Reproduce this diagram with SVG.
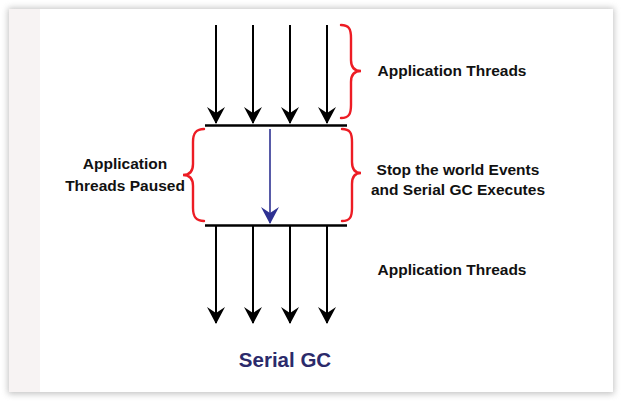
<svg xmlns="http://www.w3.org/2000/svg" width="621" height="401" viewBox="0 0 621 401">
<defs>
<filter id="sh" x="-5%" y="-5%" width="110%" height="110%">
<feGaussianBlur stdDeviation="3"/>
</filter>
<marker id="ah" viewBox="0 0 17 18" refX="16" refY="9" markerWidth="17" markerHeight="18" markerUnits="userSpaceOnUse" orient="auto">
<path d="M17,9 L0,0 L6,9 L0,18 Z" fill="#000"/>
</marker>
<marker id="ahb" viewBox="0 0 17 18" refX="16" refY="9" markerWidth="17" markerHeight="18" markerUnits="userSpaceOnUse" orient="auto">
<path d="M17,9 L0,0 L6,9 L0,18 Z" fill="#2e3192"/>
</marker>
</defs>
<style>
.t{font-family:"Liberation Sans",Arial,sans-serif;font-weight:bold;font-size:15.5px;fill:#111}
.th{stroke:#000;stroke-width:2;fill:none}
.bar{stroke:#000;stroke-width:2.4;fill:none}
.br{stroke:#ed1c24;stroke-width:2.4;fill:none;stroke-linecap:round}
</style>
<rect width="621" height="401" fill="#fff"/>
<rect x="8" y="8" width="606" height="386" fill="#9a9a9a" filter="url(#sh)" opacity="0.6"/>
<rect x="9" y="9" width="604" height="383" fill="#fff"/>
<rect x="9" y="9" width="31" height="383" fill="#f7f3f3"/>

<g id="connectors">
<line class="th" x1="216" y1="25" x2="216" y2="123" marker-end="url(#ah)"/>
<line class="th" x1="253" y1="25" x2="253" y2="123" marker-end="url(#ah)"/>
<line class="th" x1="290" y1="25" x2="290" y2="123" marker-end="url(#ah)"/>
<line class="th" x1="327" y1="25" x2="327" y2="123" marker-end="url(#ah)"/>
<line class="bar" x1="205" y1="125.5" x2="347" y2="125.5"/>
<line stroke="#2e3192" stroke-width="1.6" x1="270" y1="129" x2="270" y2="223" marker-end="url(#ahb)"/>
<line class="bar" x1="205" y1="225.5" x2="347" y2="225.5"/>
<line class="th" x1="216" y1="226" x2="216" y2="323" marker-end="url(#ah)"/>
<line class="th" x1="253" y1="226" x2="253" y2="323" marker-end="url(#ah)"/>
<line class="th" x1="290" y1="226" x2="290" y2="323" marker-end="url(#ah)"/>
<line class="th" x1="327" y1="226" x2="327" y2="323" marker-end="url(#ah)"/>
</g>

<g id="brace-top">
<path class="br" d="M341,25 C349,25 351,29 351,38 L351,60 C351,67 354,71 361,71 C354,71 351,75 351,82 L351,105 C351,114 349,118 341,118"/>
</g>
<g id="brace-mid-right">
<path class="br" d="M342,129 C350,129 352,133 352,142 L352,162 C352,169 355,173 361,173 C355,173 352,177 352,184 L352,208 C352,217 350,221 342,221"/>
</g>
<g id="brace-left">
<path class="br" d="M204,129 C196,129 193,133 193,142 L193,164 C193,171 190,175 183,175 C190,175 193,179 193,186 L193,208 C193,217 196,221 204,221"/>
</g>

<g id="label-top"><text class="t" x="452" y="76" text-anchor="middle">Application Threads</text></g>
<g id="label-stw">
<text class="t" x="458" y="175" text-anchor="middle">Stop the world Events</text>
<text class="t" x="458" y="195" text-anchor="middle">and Serial GC Executes</text>
</g>
<g id="label-paused">
<text class="t" x="125" y="169" text-anchor="middle">Application</text>
<text class="t" x="125" y="191" text-anchor="middle">Threads Paused</text>
</g>
<g id="label-bottom"><text class="t" x="452" y="275" text-anchor="middle">Application Threads</text></g>
<g id="title"><text x="285" y="367" text-anchor="middle" font-family="Liberation Sans, Arial, sans-serif" font-weight="bold" font-size="20.5" fill="#2b2a6b">Serial GC</text></g>
</svg>
